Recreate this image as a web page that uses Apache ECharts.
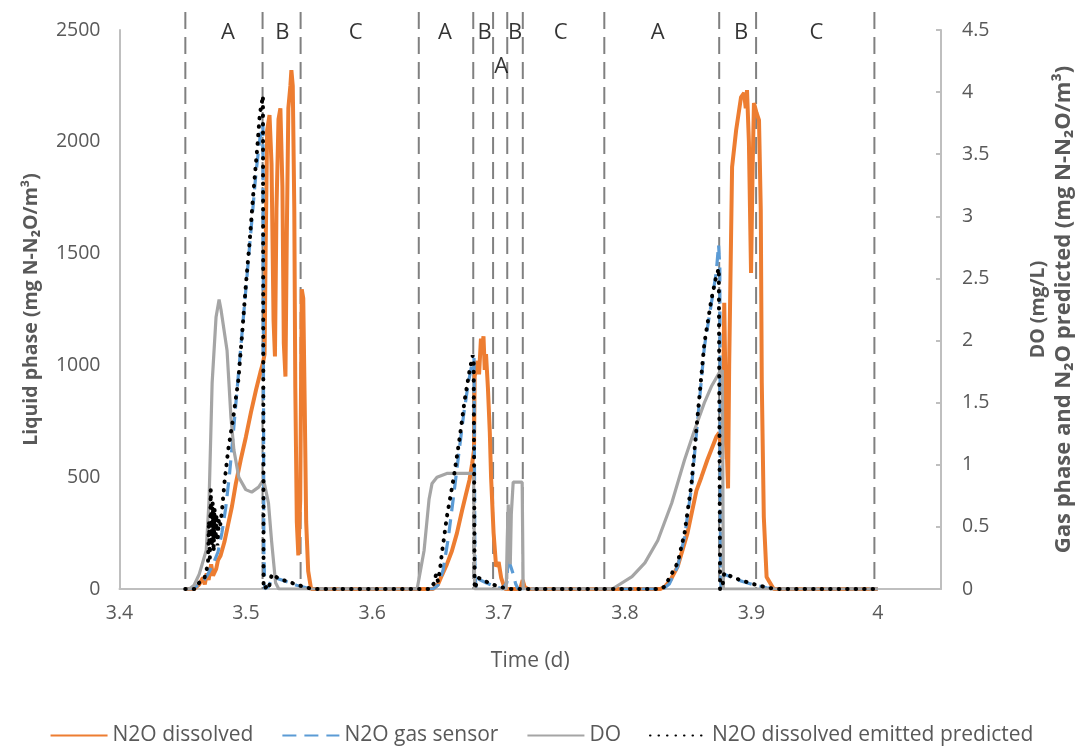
<!DOCTYPE html>
<html>
<head>
<meta charset="utf-8">
<script src="https://cdn.jsdelivr.net/npm/echarts@6/dist/echarts.min.js"></script>
<style>html,body{margin:0;padding:0;background:#fff}#c{width:1083px;height:746px}</style>
</head>
<body>
<div id="c"></div>
<script>
// ---- data (time in days; dissolved on left axis, others on right axis) ----
const seriesNames = ['N2O dissolved', 'N2O gas sensor', 'DO', 'N2O dissolved emitted predicted'];

const n2oDissolved = [
[3.452,0],[3.459,0],[3.463,20],[3.466,50],[3.4675,20],[3.469,70],[3.4705,40],[3.4725,110],[3.474,60],[3.4765,90],[3.478,130],[3.480,150],[3.483,210],[3.486,290],[3.489,370],[3.492,470],[3.496,580],[3.500,680],[3.504,790],[3.508,890],[3.5115,970],[3.5135,1010],[3.5148,1050],[3.5156,1500],[3.5168,2050],[3.5187,2120],[3.5203,1900],[3.5219,1200],[3.523,1040],[3.5242,1700],[3.5258,2100],[3.5273,2150],[3.5289,1800],[3.530,1100],[3.5313,950],[3.5324,1600],[3.5336,2150],[3.5352,2250],[3.536,2320],[3.5371,2250],[3.5383,1700],[3.5391,900],[3.5403,300],[3.5415,150],[3.543,400],[3.5442,1340],[3.5454,1300],[3.5466,800],[3.5477,300],[3.5493,80],[3.5516,0],
[3.648,0],[3.652,20],[3.655,60],[3.659,110],[3.663,170],[3.667,250],[3.671,350],[3.674,420],[3.677,490],[3.679,560],[3.6805,620],[3.681,950],[3.683,1020],[3.6845,960],[3.686,1120],[3.687,1080],[3.688,1130],[3.689,980],[3.690,1050],[3.6915,900],[3.693,700],[3.694,500],[3.696,250],[3.698,100],[3.700,120],[3.702,50],[3.705,0],[3.717,0],[3.719,40],[3.7205,10],[3.723,0],
[3.828,0],[3.8314,10],[3.836,40],[3.8416,100],[3.8494,250],[3.8565,440],[3.8604,500],[3.8651,577],[3.8722,680],[3.8745,700],[3.876,630],[3.877,580],[3.8785,1280],[3.880,700],[3.8815,450],[3.8824,1000],[3.8847,1887],[3.8879,2052],[3.8918,2200],[3.8942,2218],[3.8955,2150],[3.8965,2231],[3.898,2000],[3.8997,1413],[3.901,1900],[3.902,2173],[3.904,2130],[3.906,2097],[3.9074,1695],[3.9082,921],[3.9098,322],[3.912,54],[3.9176,0],[4.0,0]
];

const n2oGasSensor = [
[3.452,0],[3.458,0],[3.462,0.03],[3.466,0.06],[3.470,0.12],[3.474,0.2],[3.478,0.3],[3.481,0.45],[3.484,0.65],[3.487,0.92],[3.490,1.25],[3.493,1.6],[3.496,1.95],[3.499,2.3],[3.502,2.65],[3.505,3.0],[3.508,3.35],[3.511,3.62],[3.5135,3.75],[3.5142,0.3],[3.515,0],[3.518,0.02],[3.521,0.1],[3.526,0.08],[3.532,0.06],[3.540,0.03],[3.548,0.01],[3.556,0],
[3.648,0],[3.652,0.03],[3.656,0.15],[3.660,0.4],[3.664,0.72],[3.668,1.05],[3.672,1.38],[3.676,1.66],[3.679,1.82],[3.6805,1.86],[3.6812,0.2],[3.682,0],[3.684,0.08],[3.690,0.05],[3.697,0.02],[3.703,0],[3.7065,0.05],[3.7076,0.27],[3.709,0.2],[3.7115,0.12],[3.7135,0.04],[3.7154,0],
[3.83,0],[3.835,0.04],[3.8416,0.18],[3.8471,0.42],[3.8526,0.82],[3.8573,1.34],[3.8628,1.95],[3.8683,2.3],[3.8722,2.55],[3.874,2.77],[3.875,2.6],[3.8755,0.2],[3.876,0],[3.8785,0.12],[3.885,0.09],[3.893,0.06],[3.903,0.03],[3.912,0.01],[3.92,0],[4.0,0]
];

const dissolvedOxygen = [
[3.452,0],[3.4553,0],[3.459,0.03],[3.4631,0.12],[3.4686,0.31],[3.4709,0.72],[3.4733,1.66],[3.4764,2.19],[3.4788,2.33],[3.4803,2.25],[3.4851,1.92],[3.4882,1.38],[3.4905,1.12],[3.4944,0.9],[3.4999,0.8],[3.5046,0.78],[3.5101,0.82],[3.514,0.88],[3.5179,0.69],[3.5203,0.39],[3.5235,0.05],[3.526,0],
[3.6355,0],[3.641,0.31],[3.6449,0.72],[3.6473,0.85],[3.6512,0.9],[3.659,0.93],[3.6786,0.93],[3.6802,0.93],[3.681,0],
[3.706,0],[3.7068,0.4],[3.7076,0.68],[3.7084,0.3],[3.7092,0.2],[3.71,0.6],[3.7115,0.86],[3.7186,0.86],[3.7194,0],
[3.7899,0],[3.8055,0.1],[3.8157,0.21],[3.8259,0.39],[3.8369,0.69],[3.8471,1.04],[3.855,1.28],[3.8628,1.5],[3.8683,1.63],[3.8745,1.74],[3.877,1.76],[3.8778,0],[4.0,0]
];

const n2oEmittedPredicted = [
[3.452,0],[3.46,0],[3.463,0.05],[3.467,0.08],[3.470,0.2],[3.4708,0.55],[3.4715,0.25],[3.4722,0.8],[3.473,0.35],[3.4737,0.7],[3.4745,0.3],[3.4752,0.65],[3.476,0.4],[3.4768,0.6],[3.4775,0.35],[3.4785,0.55],[3.4795,0.5],[3.481,0.62],[3.483,0.85],[3.486,1.12],[3.490,1.38],[3.494,1.68],[3.497,2.05],[3.500,2.45],[3.503,2.8],[3.506,3.2],[3.509,3.55],[3.511,3.82],[3.5135,3.97],[3.514,0],[3.5165,0.02],[3.518,0],[3.5205,0.12],[3.525,0.09],[3.530,0.07],[3.536,0.05],[3.542,0.03],[3.548,0.01],[3.555,0],
[3.646,0],[3.649,0.05],[3.6505,0.12],[3.652,0.06],[3.6535,0.15],[3.655,0.28],[3.659,0.58],[3.6645,0.9],[3.6692,1.22],[3.6731,1.52],[3.677,1.76],[3.6795,1.88],[3.6802,1.86],[3.681,0],[3.6825,0],[3.6841,0.09],[3.690,0.06],[3.697,0.03],[3.704,0.01],[3.71,0],
[3.828,0],[3.8314,0.02],[3.8416,0.21],[3.8471,0.45],[3.8526,0.85],[3.8573,1.38],[3.8628,1.98],[3.8683,2.33],[3.8722,2.52],[3.8742,2.58],[3.8752,0],[3.8768,0],[3.8785,0.13],[3.886,0.09],[3.895,0.06],[3.905,0.03],[3.913,0.01],[3.92,0],[4.0,0]
];

// phase boundaries (time) and phase labels
const phaseBoundaries = [3.4521, 3.5132, 3.5433, 3.6368, 3.6799, 3.6956, 3.7068, 3.7191, 3.7836, 3.8745, 3.9037, 3.9973];
const boundaryTop = 2580;
const phaseLabels = ['A','B','C','A','B','A','B','C','A','B','C'];
const phaseLabelX = [3.4858, 3.5289, 3.5869, 3.6575, 3.6888, 3.7021, 3.7131, 3.7491, 3.8259, 3.8918, 3.9514];
const phaseLabelY = [2490, 2490, 2490, 2490, 2490, 2335, 2490, 2490, 2490, 2490, 2490];

// axes
const xMin = 3.4, xMax = 4.05, xStep = 0.1;
const yLeftMin = 0, yLeftMax = 2500, yLeftStep = 500;
const yRightMin = 0, yRightMax = 4.5, yRightStep = 0.5;

const FONT = 'Open Sans';
const axisGray = '#595959';
const lineGray = '#BFBFBF';

const chart = echarts.init(document.getElementById('c'), null, {renderer: 'canvas'});
chart.setOption({
  animation: false,
  backgroundColor: '#fff',
  textStyle: {fontFamily: FONT},
  grid: {left: 119.5, right: 131, top: 30, bottom: 157},
  legend: {
    data: seriesNames,
    bottom: -5,
    left: 'center',
    itemWidth: 57,
    itemHeight: 14,
    itemGap: 28,
    itemStyle: {color: 'rgba(0,0,0,0)', borderWidth: 0, borderColor: 'rgba(0,0,0,0)'},
    textStyle: {fontFamily: FONT, fontSize: 21, color: axisGray}
  },
  xAxis: {
    type: 'value', min: xMin, max: xMax, interval: xStep,
    name: 'Time (d)', nameLocation: 'middle', nameGap: 62,
    nameTextStyle: {fontFamily: FONT, fontSize: 21, color: axisGray},
    axisLine: {show: true, onZero: false, lineStyle: {color: lineGray, width: 2}},
    axisTick: {show: false},
    splitLine: {show: false},
    axisLabel: {fontFamily: FONT, fontSize: 19.5, color: axisGray, margin: 14, showMaxLabel: false,
      formatter: v => String(+v.toFixed(1))}
  },
  yAxis: [{
    type: 'value', position: 'left', min: yLeftMin, max: yLeftMax, interval: yLeftStep,
    name: 'Liquid phase (mg N-N\u2082O/m\u00b3)', nameLocation: 'middle', nameGap: 78,
    nameTextStyle: {fontFamily: FONT, fontSize: 19.5, fontWeight: 'bold', color: axisGray},
    axisLine: {show: true, lineStyle: {color: lineGray, width: 2}},
    axisTick: {show: false},
    splitLine: {show: false},
    axisLabel: {fontFamily: FONT, fontSize: 19.5, color: axisGray, margin: 19, formatter: v => String(v)}
  }, {
    type: 'value', position: 'right', min: yRightMin, max: yRightMax, interval: yRightStep,
    name: '{a|DO (mg/L)}\n{b|Gas phase and N\u2082O predicted (mg N-N\u2082O/m\u00b3)}', nameLocation: 'middle', nameGap: 84,
    nameTextStyle: {fontFamily: FONT, fontWeight: 'bold', color: axisGray,
      rich: {
        a: {fontFamily: FONT, fontSize: 19.5, fontWeight: 'bold', color: axisGray, lineHeight: 26},
        b: {fontFamily: FONT, fontSize: 22, fontWeight: 'bold', color: axisGray, lineHeight: 26}
      }},
    axisLine: {show: true, lineStyle: {color: lineGray, width: 2}},
    axisTick: {show: true, inside: true, length: 5, lineStyle: {color: lineGray, width: 2}},
    splitLine: {show: false},
    axisLabel: {fontFamily: FONT, fontSize: 19.5, color: axisGray, margin: 21}
  }],
  series: [{
    type: 'custom', name: 'boundaries', xAxisIndex: 0, yAxisIndex: 0, clip: false, silent: true, z: 1,
    data: phaseBoundaries.map(v => [v]),
    encode: {x: 0},
    renderItem: (params, api) => {
      const x = api.value(0);
      const p1 = api.coord([x, 0]);
      const p2 = api.coord([x, boundaryTop]);
      return {type: 'line', shape: {x1: p1[0], y1: p2[1], x2: p1[0], y2: p1[1]},
        style: {stroke: '#808080', lineWidth: 2, lineDash: [17, 8]}};
    }
  }, {
    type: 'scatter', name: 'phases', yAxisIndex: 0, clip: false, silent: true, symbolSize: 0, z: 5,
    data: phaseLabels.map((t, i) => ({name: t, value: [phaseLabelX[i], phaseLabelY[i]]})),
    label: {show: true, position: 'inside', formatter: p => p.name, color: '#000', fontFamily: FONT, fontSize: 22}
  }, {
    type: 'line', name: seriesNames[0], yAxisIndex: 0, data: n2oDissolved, showSymbol: false, symbol: 'none', z: 2,
    lineStyle: {color: '#ED7D31', width: 4}, itemStyle: {color: '#ED7D31'}
  }, {
    type: 'line', name: seriesNames[1], yAxisIndex: 1, data: n2oGasSensor, showSymbol: false, symbol: 'none', z: 3,
    lineStyle: {color: '#5B9BD5', width: 3.2, type: [14, 8]}, itemStyle: {color: '#5B9BD5'}
  }, {
    type: 'line', name: seriesNames[2], yAxisIndex: 1, data: dissolvedOxygen, showSymbol: false, symbol: 'none', z: 3,
    lineStyle: {color: '#A5A5A5', width: 3.2}, itemStyle: {color: '#A5A5A5'}
  }, {
    type: 'line', name: seriesNames[3], yAxisIndex: 1, data: n2oEmittedPredicted, showSymbol: false, symbol: 'none', z: 4,
    lineStyle: {color: '#000', width: 4, type: [0.5, 8], cap: 'round'}, itemStyle: {color: '#000'}
  }]
});
</script>
</body>
</html>
